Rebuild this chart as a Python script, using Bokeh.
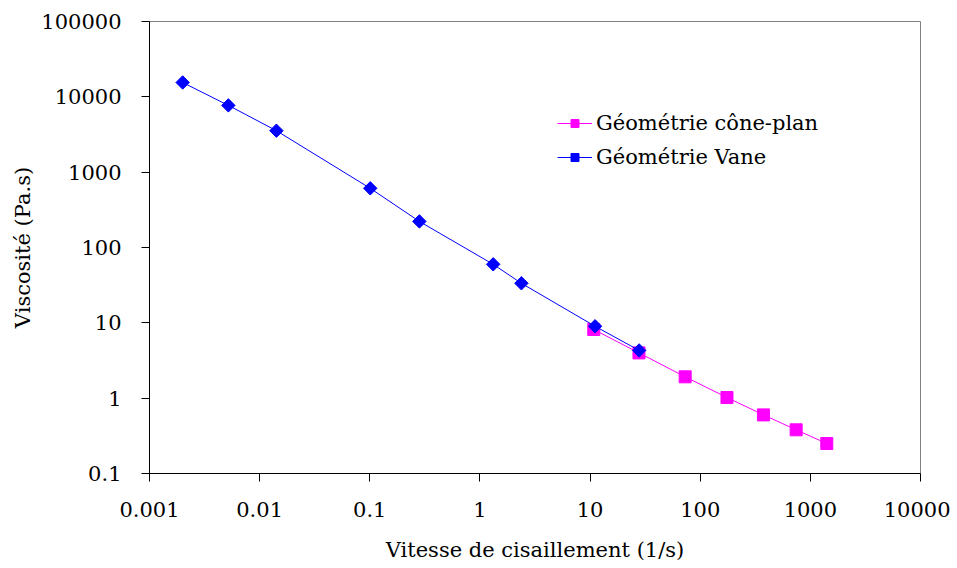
import math
from bokeh.plotting import figure
from bokeh.models import FixedTicker, Legend, LegendItem
from bokeh.embed import file_html
from bokeh.resources import INLINE

# Data
vane_shear = [0.002, 0.0052, 0.0142, 0.101, 0.282, 1.32, 2.38, 11.1, 27.9]
vane_visc = [15500, 7700, 3550, 610, 222, 59.8, 33.5, 9.0, 4.3]

cone_shear = [10.8, 27.8, 73, 175, 375, 743, 1410]
cone_visc = [8.15, 3.99, 1.92, 1.02, 0.60, 0.38, 0.25]

x_ticks = [0.001, 0.01, 0.1, 1, 10, 100, 1000, 10000]
x_tick_labels = ["0.001", "0.01", "0.1", "1", "10", "100", "1000", "10000"]
y_ticks = [0.1, 1, 10, 100, 1000, 10000, 100000]
y_tick_labels = ["0.1", "1", "10", "100", "1000", "10000", "100000"]

FONT = "DejaVu Serif"
FS = "21px"

p = figure(width=950, height=566, x_axis_type="log", y_axis_type="log",
           x_range=(0.001, 10000), y_range=(0.1, 100000),
           output_backend="svg", toolbar_location=None,
           min_border_left=149, min_border_right=30, min_border_top=21, min_border_bottom=93)

p.xgrid.visible = False
p.ygrid.visible = False
p.outline_line_color = "#808080"
p.outline_line_width = 1
p.background_fill_color = "white"
p.border_fill_color = "white"

for ax, ticks, labels in ((p.xaxis[0], x_ticks, x_tick_labels), (p.yaxis[0], y_ticks, y_tick_labels)):
    ax.ticker = FixedTicker(ticks=ticks, minor_ticks=[])
    ax.major_label_overrides = {t: l for t, l in zip(ticks, labels)}
    ax.major_label_text_font = FONT
    ax.major_label_text_font_size = FS
    ax.major_label_text_font_style = "normal"
    ax.major_label_text_color = "black"
    ax.axis_label_text_font = FONT
    ax.axis_label_text_font_size = FS
    ax.axis_label_text_font_style = "normal"
    ax.axis_label_text_color = "black"
    ax.axis_line_color = "black"
    ax.major_tick_line_color = "black"
    ax.major_tick_in = 0
    ax.major_tick_out = 8
    ax.minor_tick_line_color = None

p.xaxis.axis_label = "Vitesse de cisaillement (1/s)"
p.yaxis.axis_label = "Viscosité (Pa.s)"
p.xaxis.major_label_standoff = 20
p.xaxis.axis_label_standoff = 18
p.yaxis.major_label_standoff = 20
p.yaxis.axis_label_standoff = 3

c_line = p.line(cone_shear, cone_visc, line_color="#FF00FF", line_width=1)
c_mark = p.scatter(cone_shear, cone_visc, marker="square", size=12,
                   fill_color="#FF00FF", line_color="#FF00FF")
v_line = p.line(vane_shear, vane_visc, line_color="#0000FF", line_width=1)
v_mark = p.scatter(vane_shear, vane_visc, marker="square", size=9.5, angle=math.pi / 4,
                   fill_color="#0000FF", line_color="#0000FF")

legend = Legend(items=[
    LegendItem(label="Géométrie cône-plan", renderers=[c_line, c_mark]),
    LegendItem(label="Géométrie Vane", renderers=[v_line, v_mark]),
], location=(408, 301))
legend.label_text_font = FONT
legend.label_text_font_size = FS
legend.label_text_font_style = "normal"
legend.label_text_color = "black"
legend.border_line_color = None
legend.background_fill_alpha = 0
legend.glyph_width = 35
legend.glyph_height = 20
legend.label_height = 30
legend.spacing = 4
legend.padding = 0
legend.margin = 0
legend.label_standoff = 4
p.add_layout(legend, "center")

open("out.html", "w").write(file_html(p, INLINE))
